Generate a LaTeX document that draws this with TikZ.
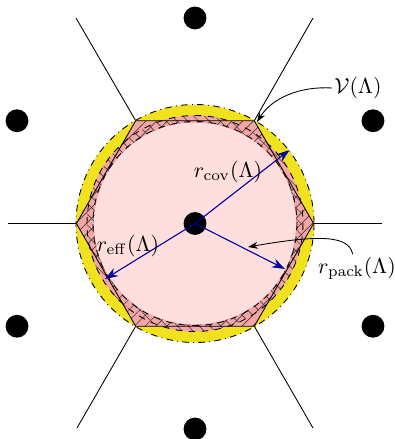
\documentclass[tikz,border=0pt]{standalone}
\usetikzlibrary{patterns,patterns.meta,arrows.meta}
\definecolor{covyellow}{RGB}{240,226,30}
\definecolor{salmon}{RGB}{245,165,165}
\definecolor{lightpink}{RGB}{255,222,222}
\definecolor{navyblue}{RGB}{0,0,160}
\begin{document}
\begin{tikzpicture}[x=0.46pt,y=-0.46pt,
  dot/.style={circle,fill=black,inner sep=0pt,minimum size=10.5pt},
  cellline/.style={black,line width=0.4pt},
  bluearrow/.style={navyblue,line width=0.5pt,-{Stealth[length=6pt,width=4.2pt]}},
  blackarrow/.style={black,line width=0.4pt,-{Stealth[length=4.5pt,width=3.2pt]}},
  lbl/.style={inner sep=1pt}]
\useasboundingbox (0,0) rectangle (395,439);
\coordinate (O) at (195,223.5);
\coordinate (V0) at (313.6,223.5);
\coordinate (V1) at (254.3,120.75);
\coordinate (V2) at (135.7,120.75);
\coordinate (V3) at (76.4,223.5);
\coordinate (V4) at (135.7,326.25);
\coordinate (V5) at (254.3,326.25);
\coordinate (E0) at (382,223.5);
\coordinate (E1) at (313,18);
\coordinate (E2) at (76,18);
\coordinate (E3) at (8,223.5);
\coordinate (E4) at (77,428);
\coordinate (E5) at (313,428);
% neighbouring cell boundaries
\foreach \i in {0,...,5} { \draw[cellline] (V\i) -- (E\i); }
% covering sphere
\fill[covyellow] (O) circle[radius=119];
\draw[black,line width=0.4pt,dash dot] (O) circle[radius=119];
% effective sphere and Voronoi cell fills
\path[fill=salmon] (O) circle[radius=108];
\path[fill=salmon] (V0)--(V1)--(V2)--(V3)--(V4)--(V5)--cycle;
\path[pattern={Lines[angle=45,distance=3.5pt,line width=0.3pt]},pattern color=black!75] (V0)--(V1)--(V2)--(V3)--(V4)--(V5)--cycle;
\path[pattern={Lines[angle=-45,distance=3.5pt,line width=0.3pt]},pattern color=black!75] (O) circle[radius=108];
\draw[black,line width=0.4pt,dashed] (O) circle[radius=108];
\draw[cellline] (V0)--(V1)--(V2)--(V3)--(V4)--(V5)--cycle;
% packing sphere
\fill[lightpink] (O) circle[radius=101];
\draw[black,line width=0.4pt,dashed] (O) circle[radius=102];
% lattice points
\node[dot] (p0) at (O) {};
\node[dot] (p1) at (195,18) {};
\node[dot] (p2) at (195,429) {};
\node[dot] (p3) at (17,120.75) {};
\node[dot] (p4) at (373,120.75) {};
\node[dot] (p5) at (17,326.25) {};
\node[dot] (p6) at (373,326.25) {};
% radii
\coordinate (covtip) at (289.5,150);
\coordinate (efftip) at (105,279);
\coordinate (packtip) at (285,269);
\draw[bluearrow] (O) -- (covtip);
\draw[bluearrow] (O) -- (efftip);
\draw[bluearrow] (O) -- (packtip);
% labels
\node[lbl] (lcov) at (228,172) {$r_{\mathrm{cov}}(\Lambda)$};
\node[lbl] (leff) at (128,246) {$r_{\mathrm{eff}}(\Lambda)$};
\node[lbl] (lpack) at (357,268) {$r_{\mathrm{pack}}(\Lambda)$};
\node[lbl] (lV) at (358,88) {$\mathcal{V}(\Lambda)$};
\coordinate (vpt) at (257,122);
\coordinate (packpt) at (248,247);
\draw[blackarrow] (lV.west) .. controls (300,86) and (272,98) .. (vpt);
\draw[blackarrow] ([xshift=-2]lpack.north) .. controls (349,236) and (322,234) .. (packpt);
\end{tikzpicture}
\end{document}
